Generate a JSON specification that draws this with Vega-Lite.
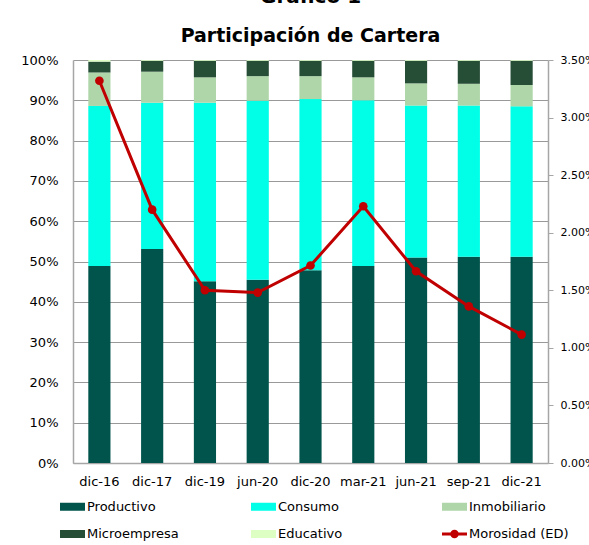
{
  "$schema": "https://vega.github.io/schema/vega-lite/v6.json",
  "width": 475,
  "height": 403,
  "autosize": {"type": "none"},
  "padding": {"left": 73, "top": 60, "right": 41, "bottom": 82},
  "background": "white",
  "config": {
    "font": "DejaVu Sans",
    "view": {"stroke": null},
    "legend": {"symbolSize": 625, "symbolStrokeWidth": 0, "labelFontSize": 13, "labelColor": "#000000", "labelOffset": 2}
  },
  "title": {
    "text": "Gráfico 1",
    "subtitle": "Participación de Cartera",
    "anchor": "middle",
    "fontSize": 20,
    "fontWeight": "bold",
    "color": "#000000",
    "subtitleFontSize": 19,
    "subtitleFontWeight": "bold",
    "subtitleColor": "#000000",
    "subtitlePadding": 20,
    "offset": 8.5
  },
  "datasets": {
    "cartera": [
      {"periodo": "dic-16", "tipo": "Productivo", "ord": 1, "valor": 48.9},
      {"periodo": "dic-16", "tipo": "Consumo", "ord": 2, "valor": 39.7},
      {"periodo": "dic-16", "tipo": "Inmobiliario", "ord": 3, "valor": 8.3},
      {"periodo": "dic-16", "tipo": "Microempresa", "ord": 4, "valor": 2.7},
      {"periodo": "dic-16", "tipo": "Educativo", "ord": 5, "valor": 0.4},
      {"periodo": "dic-17", "tipo": "Productivo", "ord": 1, "valor": 53.1},
      {"periodo": "dic-17", "tipo": "Consumo", "ord": 2, "valor": 36.3},
      {"periodo": "dic-17", "tipo": "Inmobiliario", "ord": 3, "valor": 7.7},
      {"periodo": "dic-17", "tipo": "Microempresa", "ord": 4, "valor": 2.7},
      {"periodo": "dic-17", "tipo": "Educativo", "ord": 5, "valor": 0.2},
      {"periodo": "dic-19", "tipo": "Productivo", "ord": 1, "valor": 45.1},
      {"periodo": "dic-19", "tipo": "Consumo", "ord": 2, "valor": 44.3},
      {"periodo": "dic-19", "tipo": "Inmobiliario", "ord": 3, "valor": 6.3},
      {"periodo": "dic-19", "tipo": "Microempresa", "ord": 4, "valor": 4.1},
      {"periodo": "dic-19", "tipo": "Educativo", "ord": 5, "valor": 0.2},
      {"periodo": "jun-20", "tipo": "Productivo", "ord": 1, "valor": 45.5},
      {"periodo": "jun-20", "tipo": "Consumo", "ord": 2, "valor": 44.4},
      {"periodo": "jun-20", "tipo": "Inmobiliario", "ord": 3, "valor": 6.1},
      {"periodo": "jun-20", "tipo": "Microempresa", "ord": 4, "valor": 3.8},
      {"periodo": "jun-20", "tipo": "Educativo", "ord": 5, "valor": 0.2},
      {"periodo": "dic-20", "tipo": "Productivo", "ord": 1, "valor": 47.8},
      {"periodo": "dic-20", "tipo": "Consumo", "ord": 2, "valor": 42.5},
      {"periodo": "dic-20", "tipo": "Inmobiliario", "ord": 3, "valor": 5.7},
      {"periodo": "dic-20", "tipo": "Microempresa", "ord": 4, "valor": 3.8},
      {"periodo": "dic-20", "tipo": "Educativo", "ord": 5, "valor": 0.2},
      {"periodo": "mar-21", "tipo": "Productivo", "ord": 1, "valor": 48.9},
      {"periodo": "mar-21", "tipo": "Consumo", "ord": 2, "valor": 41.1},
      {"periodo": "mar-21", "tipo": "Inmobiliario", "ord": 3, "valor": 5.7},
      {"periodo": "mar-21", "tipo": "Microempresa", "ord": 4, "valor": 4.1},
      {"periodo": "mar-21", "tipo": "Educativo", "ord": 5, "valor": 0.2},
      {"periodo": "jun-21", "tipo": "Productivo", "ord": 1, "valor": 51.0},
      {"periodo": "jun-21", "tipo": "Consumo", "ord": 2, "valor": 37.7},
      {"periodo": "jun-21", "tipo": "Inmobiliario", "ord": 3, "valor": 5.5},
      {"periodo": "jun-21", "tipo": "Microempresa", "ord": 4, "valor": 5.6},
      {"periodo": "jun-21", "tipo": "Educativo", "ord": 5, "valor": 0.2},
      {"periodo": "sep-21", "tipo": "Productivo", "ord": 1, "valor": 51.2},
      {"periodo": "sep-21", "tipo": "Consumo", "ord": 2, "valor": 37.5},
      {"periodo": "sep-21", "tipo": "Inmobiliario", "ord": 3, "valor": 5.4},
      {"periodo": "sep-21", "tipo": "Microempresa", "ord": 4, "valor": 5.7},
      {"periodo": "sep-21", "tipo": "Educativo", "ord": 5, "valor": 0.2},
      {"periodo": "dic-21", "tipo": "Productivo", "ord": 1, "valor": 51.2},
      {"periodo": "dic-21", "tipo": "Consumo", "ord": 2, "valor": 37.3},
      {"periodo": "dic-21", "tipo": "Inmobiliario", "ord": 3, "valor": 5.3},
      {"periodo": "dic-21", "tipo": "Microempresa", "ord": 4, "valor": 6.0},
      {"periodo": "dic-21", "tipo": "Educativo", "ord": 5, "valor": 0.2}
    ],
    "morosidad": [
      {"periodo": "dic-16", "serie": "Morosidad (ED)", "mora": 3.32},
      {"periodo": "dic-17", "serie": "Morosidad (ED)", "mora": 2.20},
      {"periodo": "dic-19", "serie": "Morosidad (ED)", "mora": 1.50},
      {"periodo": "jun-20", "serie": "Morosidad (ED)", "mora": 1.48},
      {"periodo": "dic-20", "serie": "Morosidad (ED)", "mora": 1.715},
      {"periodo": "mar-21", "serie": "Morosidad (ED)", "mora": 2.23},
      {"periodo": "jun-21", "serie": "Morosidad (ED)", "mora": 1.665},
      {"periodo": "sep-21", "serie": "Morosidad (ED)", "mora": 1.36},
      {"periodo": "dic-21", "serie": "Morosidad (ED)", "mora": 1.115}
    ]
  },
  "encoding": {
    "x": {
      "field": "periodo",
      "type": "nominal",
      "sort": ["dic-16", "dic-17", "dic-19", "jun-20", "dic-20", "mar-21", "jun-21", "sep-21", "dic-21"],
      "scale": {"paddingInner": 0.58, "paddingOuter": 0.29},
      "axis": {
        "title": null,
        "labelAngle": 0,
        "labelFontSize": 13,
        "labelColor": "#000000",
        "labelPadding": 12,
        "ticks": false,
        "tickSize": 0,
        "domainColor": "#a6a6a6",
        "domainWidth": 1.5,
        "grid": false
      }
    }
  },
  "layer": [
    {
      "data": {"name": "cartera"},
      "mark": {"type": "bar"},
      "encoding": {
        "y": {
          "field": "valor",
          "type": "quantitative",
          "stack": "zero",
          "scale": {"domain": [0, 100], "nice": false},
          "axis": {
            "title": null,
            "values": [0, 10, 20, 30, 40, 50, 60, 70, 80, 90, 100],
            "labelExpr": "datum.value + '%'",
            "labelFontSize": 13,
            "labelColor": "#000000",
            "labelPadding": 15,
            "ticks": false,
            "tickSize": 0,
            "domainColor": "#a6a6a6",
            "domainWidth": 1.5,
            "grid": true,
            "gridColor": "#999999",
            "gridWidth": 1
          }
        },
        "color": {
          "field": "tipo",
          "type": "nominal",
          "scale": {
            "domain": ["Productivo", "Consumo", "Inmobiliario", "Microempresa", "Educativo", "Morosidad (ED)"],
            "range": ["#00544c", "#00ffe6", "#aed6a8", "#264d36", "#ddffc4", "#c00000"]
          },
          "legend": {
            "title": null,
            "orient": "none",
            "legendX": -13,
            "legendY": 434,
            "direction": "horizontal",
            "columns": 3,
            "gridAlign": "all",
            "columnPadding": 64,
            "rowPadding": 7.5,
            "symbolSize": 625,
            "encode": {
              "symbols": {
                "update": {
                  "shape": [
                    {"test": "datum.value === 'Morosidad (ED)'", "value": "M-1,-0.12H1V0.12H-1Z M-0.34,0 A0.34,0.34 0 1,1 0.34,0 A0.34,0.34 0 1,1 -0.34,0 Z"},
                    {"value": "M-1,-0.32H1V0.32H-1Z"}
                  ],
                  "size": {"value": 625},
                  "fill": {"scale": "color", "field": "value"},
                  "stroke": {"value": "transparent"},
                  "strokeWidth": {"value": 0},
                  "opacity": {"value": 1}
                }
              }
            }
          }
        },
        "order": {"field": "ord", "type": "quantitative"}
      }
    },
    {
      "data": {"name": "morosidad"},
      "mark": {"type": "line", "color": "#c00000", "strokeWidth": 3, "point": {"filled": true, "size": 75, "color": "#c00000"}},
      "encoding": {
        "y": {
          "field": "mora",
          "type": "quantitative",
          "scale": {"domain": [0, 3.5], "nice": false},
          "axis": {
            "orient": "right",
            "title": null,
            "values": [0, 0.5, 1, 1.5, 2, 2.5, 3, 3.5],
            "labelExpr": "format(datum.value, '.2f') + '%'",
            "labelFontSize": 11,
            "labelColor": "#000000",
            "labelPadding": 7,
            "ticks": true,
            "tickSize": 5,
            "tickColor": "#a6a6a6",
            "domainColor": "#a6a6a6",
            "domainWidth": 1.5,
            "grid": false
          }
        },
        "color": {
          "field": "serie",
          "type": "nominal",
          "legend": {
            "title": null,
            "orient": "none",
            "legendX": -13,
            "legendY": 434,
            "direction": "horizontal",
            "columns": 3,
            "gridAlign": "all",
            "columnPadding": 64,
            "rowPadding": 7.5,
            "symbolSize": 625,
            "encode": {
              "symbols": {
                "update": {
                  "shape": [
                    {"test": "datum.value === 'Morosidad (ED)'", "value": "M-1,-0.12H1V0.12H-1Z M-0.34,0 A0.34,0.34 0 1,1 0.34,0 A0.34,0.34 0 1,1 -0.34,0 Z"},
                    {"value": "M-1,-0.32H1V0.32H-1Z"}
                  ],
                  "size": {"value": 625},
                  "fill": {"scale": "color", "field": "value"},
                  "stroke": {"value": "transparent"},
                  "strokeWidth": {"value": 0},
                  "opacity": {"value": 1}
                }
              }
            }
          }
        }
      }
    }
  ],
  "resolve": {"scale": {"y": "independent"}}
}
